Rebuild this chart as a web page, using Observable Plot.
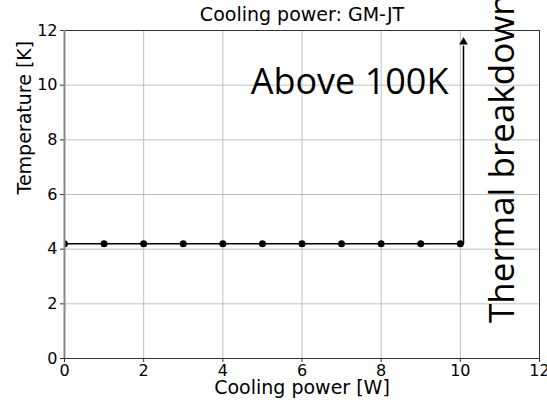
<!DOCTYPE html>
<html>
<head>
<meta charset="utf-8">
<script src="https://cdn.jsdelivr.net/npm/d3@7"></script>
<script src="https://cdn.jsdelivr.net/npm/@observablehq/plot@0.6"></script>
<style>
  html, body { margin: 0; padding: 0; background: #fff; }
  svg { overflow: visible; }
</style>
</head>
<body>
<div id="chart"></div>
<script>
// Measured cooling power vs. temperature for the GM-JT stage
const power = [0, 1, 2, 3, 4, 5, 6, 7, 8, 9, 10];
const temperature = [4.2, 4.2, 4.2, 4.2, 4.2, 4.2, 4.2, 4.2, 4.2, 4.2, 4.2];
// Breakdown jump: temperature leaves the plotted range
const breakdownPower = 10.08;
const breakdownTop = 11.7;
const xTicks = [0, 2, 4, 6, 8, 10, 12];
const yTicks = [0, 2, 4, 6, 8, 10, 12];

const pts = power.map((p, i) => ({x: p, y: temperature[i]}));
const path = [...pts, {x: breakdownPower, y: temperature[temperature.length - 1]}];

const font = "DejaVu Sans, sans-serif";
const annFont = "Open Sans, Noto Sans, sans-serif";

const chart = Plot.plot({
  width: 547,
  height: 404,
  marginLeft: 64,
  marginRight: 8,
  marginTop: 30,
  marginBottom: 46,
  style: {fontFamily: font, fontSize: "16px", color: "#000", background: "#fff"},
  x: {domain: [0, 12], ticks: xTicks, label: null},
  y: {domain: [0, 12], ticks: yTicks, label: null},
  marks: [
    Plot.gridX(xTicks, {stroke: "#b0b0b0", strokeOpacity: 1, strokeWidth: 0.8}),
    Plot.gridY(yTicks, {stroke: "#b0b0b0", strokeOpacity: 1, strokeWidth: 0.8}),
    Plot.frame({stroke: "#333", strokeWidth: 1}),
    Plot.axisX(xTicks, {tickSize: 4, tickPadding: 2, fontSize: 16, stroke: "#333"}),
    Plot.axisY(yTicks, {tickSize: 4, tickPadding: 3, fontSize: 16, stroke: "#333"}),
    Plot.line(path, {x: "x", y: "y", stroke: "#000", strokeWidth: 1.5, clip: true}),
    Plot.link([{x: breakdownPower, y1: 4.2, y2: breakdownTop - 0.25}],
      {x1: "x", x2: "x", y1: "y1", y2: "y2", stroke: "#000", strokeWidth: 1.5}),
    Plot.dot([{x: breakdownPower, y: breakdownTop - 0.12}],
      {x: "x", y: "y", symbol: "triangle", r: 3.2, fill: "#000", stroke: "none"}),
    Plot.dot(pts, {x: "x", y: "y", r: 3.5, fill: "#000", stroke: "none", clip: true}),
    Plot.ruleX([0], {stroke: "#888", strokeWidth: 2}),
    Plot.text(["Above 100K"], {x: 9.7, y: 10.1, textAnchor: "end", fontSize: 36, fill: "#000", fontFamily: annFont}),
    Plot.text(["Thermal breakdown"], {x: 11.08, y: 1.3, rotate: -90, textAnchor: "start", fontSize: 35, fill: "#000", fontFamily: annFont}),
    Plot.text(["Cooling power: GM-JT"], {frameAnchor: "top", lineAnchor: "middle", dy: -16, fontSize: 19, fill: "#000"}),
    Plot.text(["Cooling power [W]"], {frameAnchor: "bottom", lineAnchor: "middle", dy: 29, fontSize: 19, fill: "#000"}),
    Plot.text(["Temperature [K]"], {frameAnchor: "left", dx: -40, rotate: -90, fontSize: 19, fill: "#000"})
  ]
});
document.getElementById("chart").appendChild(chart);
</script>
</body>
</html>
